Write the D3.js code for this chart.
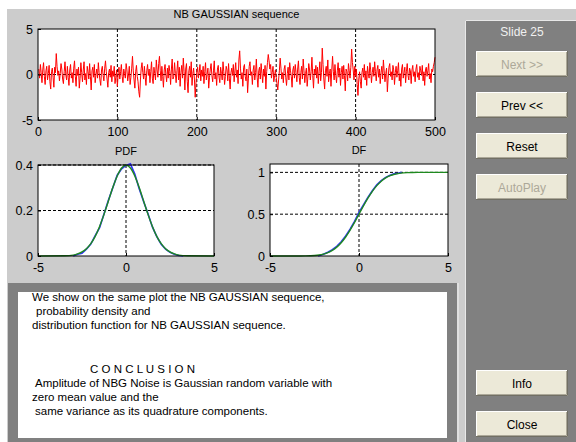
<!DOCTYPE html>
<html>
<head>
<meta charset="utf-8">
<script src="https://cdn.jsdelivr.net/npm/d3@7"></script>
<style>
  body { margin: 0; background: #fff; }
  svg { display: block; font-family: "Liberation Sans", Arial, sans-serif; }
</style>
</head>
<body>
<svg id="fig" width="576" height="442"></svg>
<script>
// NB gaussian sequence (samples 1..500)
const noise = [
  0.6,-0.4,1.1,0.2,-0.9,0.5,1.3,-0.2,-1.1,0.4,0.9,-0.6,0.1,1.0,-0.8,-1.6,0.3,0.7,-0.3,-1.4,0.8,0.2,2.3,0.9,-0.1,
  0.4,-0.7,0.1,1.2,0.6,-0.5,-1.0,0.3,1.4,0.0,-0.6,0.9,-0.3,-1.2,0.5,1.1,-0.4,0.2,-0.9,0.7,1.5,-0.2,-1.3,0.6,-0.1,
  0.8,-1.5,-0.4,1.3,0.2,-0.8,0.5,1.4,-0.6,0.1,-1.1,0.9,0.3,-0.5,1.2,-0.2,-1.7,0.4,0.8,-0.3,1.1,-0.9,0.0,0.6,-0.4,
  1.3,0.2,-0.6,-1.2,0.5,0.9,-0.1,-0.7,0.7,1.5,0.3,-0.5,-1.4,0.2,0.6,-0.3,1.0,-0.8,0.4,-0.2,0.9,-1.0,-0.3,0.5,-1.3,
  0.2,0.8,-0.5,0.3,1.1,-0.2,-0.9,0.6,0.1,-0.4,1.2,0.5,-0.7,0.0,0.9,-1.1,-0.3,0.7,2.0,0.4,-0.6,-1.5,0.3,1.0,-0.2,
  -0.8,-1.9,-2.5,-0.6,0.7,1.3,0.2,-0.5,0.9,-0.3,-1.2,0.4,1.1,-0.1,0.6,-0.9,0.3,1.4,-0.4,-1.0,0.8,0.1,-0.6,1.6,0.5,
  -0.3,1.2,2.0,0.4,-0.7,0.9,-0.2,-1.4,0.5,1.1,0.0,-0.8,0.7,-0.4,1.0,0.3,-1.1,0.6,1.7,-0.5,-0.2,1.3,0.1,-0.9,0.4,
  1.5,-0.6,0.8,-1.3,0.2,1.0,-0.4,1.8,0.3,-1.7,0.6,1.2,-0.8,-2.0,0.4,0.9,-0.3,1.4,-1.2,0.1,0.7,-0.5,-2.5,-0.9,0.3,
  0.8,-0.4,0.2,1.1,-0.7,0.5,-0.2,0.9,-1.0,0.3,1.3,-0.6,0.0,0.7,-1.5,-0.3,0.6,1.2,-0.1,-0.8,0.4,1.5,-0.5,0.2,-1.2,
  0.6,1.0,-0.3,-0.9,0.8,0.1,-0.6,1.4,0.3,-1.1,-0.2,0.9,0.5,-0.7,1.2,-0.4,-1.6,0.2,0.7,-0.1,1.1,-0.8,0.4,1.3,-0.3,
  0.5,-1.0,1.6,2.6,0.7,-0.5,0.2,-1.3,0.8,1.1,-0.2,-0.7,0.6,-2.0,-0.4,0.9,1.4,-0.1,0.3,-1.1,0.5,1.0,-0.6,0.2,1.7,
  -0.3,-1.4,0.4,0.8,-0.5,1.2,0.1,-0.9,0.6,-0.2,1.0,-1.6,0.3,1.3,2.2,1.5,0.6,1.1,-0.4,0.2,0.9,-0.8,-0.1,0.5,-0.3,
  -1.0,-1.7,-0.6,0.4,1.8,0.7,-0.5,0.2,-0.9,0.6,1.0,-0.3,-1.2,0.1,0.8,-0.6,1.3,0.4,-0.2,-1.4,0.5,0.9,-0.4,1.1,0.2,
  -0.8,0.6,1.5,-0.3,-1.1,0.2,0.9,-0.5,1.7,0.4,-0.9,0.1,0.7,-1.3,-0.2,1.2,0.5,-0.6,0.3,1.9,-0.1,-1.5,0.6,0.0,1.0,
  -0.4,0.8,-1.0,0.3,1.4,-0.7,0.2,2.9,1.1,-0.5,-1.6,0.4,0.9,-0.2,1.6,-0.8,0.1,0.6,-1.3,0.5,2.0,0.3,-0.6,1.1,-0.1,
  -0.9,0.4,1.3,-0.3,0.7,-1.2,0.2,0.9,-0.5,1.0,-0.1,-1.8,0.6,0.3,-0.7,1.2,0.4,-0.4,0.8,2.8,1.3,0.5,-0.6,0.9,-0.2,
  0.6,-1.1,-2.3,-0.5,0.3,-0.8,-1.5,0.2,0.7,-0.3,1.1,-0.6,0.4,-1.2,0.9,0.1,-0.4,1.3,0.5,-0.9,0.2,0.8,-0.2,1.4,0.3,
  -0.7,0.5,1.0,-0.3,0.6,-1.0,0.2,0.9,-0.5,1.6,0.4,-0.8,0.1,0.7,-1.9,-0.4,0.8,1.2,-0.2,0.3,-0.6,1.0,0.5,-1.1,0.2,
  0.9,-0.3,0.4,1.3,-0.7,0.1,-1.3,0.6,1.1,-0.4,0.2,0.8,-0.9,0.3,1.2,-0.1,-0.6,0.7,0.4,-1.0,0.5,1.0,-0.2,0.3,-0.8,
  0.6,1.1,-0.3,0.2,-0.6,0.9,0.4,-0.1,1.0,-0.7,0.3,-1.2,0.5,0.8,-0.2,0.4,1.2,-0.5,0.1,-0.9,0.6,0.3,0.9,1.3,1.9
];

// theoretical curves (green)
const gaussX   = [-5,-3.5,-3,-2.75,-2.5,-2.25,-2,-1.75,-1.5,-1.25,-1,-0.75,-0.5,-0.25,0,0.25,0.5,0.75,1,1.25,1.5,1.75,2,2.25,2.5,2.75,3,3.5,5];
const gaussPdf = [0,0.001,0.004,0.009,0.018,0.032,0.054,0.086,0.130,0.183,0.242,0.301,0.352,0.387,0.399,0.387,0.352,0.301,0.242,0.183,0.130,0.086,0.054,0.032,0.018,0.009,0.004,0.001,0];
const gaussCdf = [0,0.000,0.001,0.003,0.006,0.012,0.023,0.040,0.067,0.106,0.159,0.227,0.309,0.401,0.500,0.599,0.691,0.773,0.841,0.894,0.933,0.960,0.977,0.988,0.994,0.997,0.999,1.000,1];

// estimated curves (blue)
const estPdfX = [-3,-2.75,-2.5,-2.25,-2,-1.75,-1.5,-1.25,-1,-0.75,-0.5,-0.25,0,0.25,0.5,0.75,1,1.25,1.5,1.75,2,2.25,2.5,2.75,3,3.25];
const estPdf  = [0,0.008,0.012,0.030,0.052,0.090,0.125,0.185,0.245,0.300,0.355,0.383,0.398,0.405,0.360,0.296,0.240,0.186,0.128,0.085,0.052,0.030,0.016,0.008,0.002,0];
const estCdfX = [-2.3,-2,-1.75,-1.5,-1.25,-1,-0.75,-0.5,-0.25,0,0.25,0.5,0.75,1,1.25,1.5,1.75,2,2.2,2.4];
const estCdf  = [0,0.02,0.045,0.075,0.115,0.17,0.24,0.32,0.415,0.52,0.61,0.70,0.78,0.85,0.90,0.94,0.965,0.985,0.99,1.0];

// tick labels
const seqXTicks = [0,100,200,300,400,500];
const seqYTicks = [-5,0,5];
const distXTicks = [-5,0,5];
const pdfYTicks = [0,0.2,0.4];
const dfYTicks = [0,0.5,1];

// gui text
const buttonsTop = ["Next >>","Prev <<","Reset","AutoPlay"];
const buttonsOff = ["Next >>","AutoPlay"];
const buttonsBottom = ["Info","Close"];
const noteLines = [
  {t:"We show on the same plot the NB GAUSSIAN sequence,", x:32, y:301},
  {t:"probability density and", x:36, y:315},
  {t:"distribution function for NB GAUSSIAN sequence.", x:32, y:329},
  {t:"C O N C L U S I O N", x:90, y:373},
  {t:"Amplitude of NBG Noise is Gaussian random variable with", x:35, y:387},
  {t:"zero mean value and the", x:32, y:401},
  {t:"same variance as its quadrature components.", x:35, y:415}
];

let svg = d3.select("#fig");

// window backgrounds
svg.append("rect").attr("width",576).attr("height",442).attr("fill","#fff");
svg.append("rect").attr("x",7).attr("y",9).attr("width",569).attr("height",433).attr("fill","#cccccc");

//draws one matlab style axes
function drawAxes(o){
  let x = d3.scaleLinear().domain(o.xd).range([o.x0, o.x1]);
  let y = d3.scaleLinear().domain(o.yd).range([o.y1, o.y0]);
  let g = svg.append("g");

  g.append("rect")
    .attr("x", o.x0).attr("y", o.y0)
    .attr("width", o.x1 - o.x0).attr("height", o.y1 - o.y0)
    .attr("fill", "#fff");

  // dotted grid
  g.selectAll(".gx").data(o.gridX).enter().append("line")
    .attr("x1", d => x(d)).attr("x2", d => x(d))
    .attr("y1", o.y0).attr("y2", o.y1)
    .attr("stroke", "#000").attr("stroke-dasharray", "3,2");
  g.selectAll(".gy").data(o.gridY).enter().append("line")
    .attr("x1", o.x0).attr("x2", o.x1)
    .attr("y1", d => y(d)).attr("y2", d => y(d))
    .attr("stroke", "#000").attr("stroke-dasharray", "3,2");

  o.draw(g, x, y);

  let ax = g.append("g")
    .attr("transform", "translate(0," + o.y1 + ")")
    .call(d3.axisBottom(x).tickValues(o.xt).tickFormat(d => String(d)).tickSizeInner(-3).tickSizeOuter(0).tickPadding(7));
  let ay = g.append("g")
    .attr("transform", "translate(" + o.x0 + ",0)")
    .call(d3.axisLeft(y).tickValues(o.yt).tickFormat(d => String(d)).tickSizeInner(-3).tickSizeOuter(0).tickPadding(5));
  [ax, ay].forEach(a => {
    a.select(".domain").remove();
    a.selectAll("text").attr("fill", "#000").style("font-size", "12.5px")
      .style("font-family", "'Liberation Sans', Arial, sans-serif");
  });

  g.append("rect")
    .attr("x", o.x0).attr("y", o.y0)
    .attr("width", o.x1 - o.x0).attr("height", o.y1 - o.y0)
    .attr("fill", "none").attr("stroke", "#000");

  g.append("text")
    .attr("x", (o.x0 + o.x1) / 2).attr("y", o.ty)
    .attr("text-anchor", "middle").style("font-size", "11px")
    .text(o.title);
}

// top plot: the sequence
drawAxes({
  x0: 38, x1: 435, y0: 29, y1: 120,
  xd: [0, 500], yd: [-5, 5], xt: seqXTicks, yt: seqYTicks,
  gridX: [100, 200, 300, 400], gridY: [0],
  title: "NB GAUSSIAN sequence", ty: 18,
  draw: (g, x, y) => {
    g.append("path").datum(noise)
      .attr("d", d3.line().x((d, i) => x(i + 1)).y(d => y(d)))
      .attr("fill", "none").attr("stroke", "#ff0000").attr("stroke-width", 1);
  }
});

// probability density
drawAxes({
  x0: 38, x1: 214, y0: 165, y1: 256,
  xd: [-5, 5], yd: [0, 0.4], xt: distXTicks, yt: pdfYTicks,
  gridX: [0], gridY: [0.2, 0.4],
  title: "PDF", ty: 155,
  draw: (g, x, y) => {
    g.append("path").datum(estPdf)
      .attr("d", d3.line().x((d, i) => x(estPdfX[i])).y(d => y(d)))
      .attr("fill", "none").attr("stroke", "#3030ff").attr("stroke-width", 1.6);
    g.append("path").datum(gaussPdf)
      .attr("d", d3.line().curve(d3.curveMonotoneX).x((d, i) => x(gaussX[i])).y(d => y(d)))
      .attr("fill", "none").attr("stroke", "#1f8a1f").attr("stroke-width", 1.4);
  }
});

// distribution function
drawAxes({
  x0: 270, x1: 448, y0: 164, y1: 256,
  xd: [-5, 5], yd: [0, 1.1], xt: distXTicks, yt: dfYTicks,
  gridX: [0], gridY: [0.5, 1],
  title: "DF", ty: 154,
  draw: (g, x, y) => {
    g.append("path").datum(estCdf)
      .attr("d", d3.line().x((d, i) => x(estCdfX[i])).y(d => y(d)))
      .attr("fill", "none").attr("stroke", "#3030ff").attr("stroke-width", 1.6);
    g.append("path").datum(gaussCdf)
      .attr("d", d3.line().curve(d3.curveMonotoneX).x((d, i) => x(gaussX[i])).y(d => y(d)))
      .attr("fill", "none").attr("stroke", "#1f8a1f").attr("stroke-width", 1.4);
  }
});

// text panel
svg.append("rect").attr("x",8).attr("y",283).attr("width",449).attr("height",159).attr("fill","#808080");
svg.append("rect").attr("x",18).attr("y",292).attr("width",429).attr("height",146).attr("fill","#fff");
svg.append("line").attr("x1",458).attr("x2",458).attr("y1",283).attr("y2",442).attr("stroke","#f4f4f4");
svg.selectAll(".note").data(noteLines).enter().append("text")
  .attr("x", d => d.x).attr("y", d => d.y)
  .style("font-size", "11.5px").attr("fill", "#000")
  .text(d => d.t);

// control panel
svg.append("rect").attr("x",465).attr("y",20).attr("width",111).attr("height",422).attr("fill","#808080");
svg.append("path").attr("d","M465.5,442V20.5H576").attr("fill","none").attr("stroke","#e8e8e8");
svg.append("text").attr("x",522).attr("y",36).attr("text-anchor","middle")
  .style("font-size","12px").attr("fill","#f0f0f0").text("Slide 25");

//windows style push button
function button(label, top){
  let g = svg.append("g").attr("transform", "translate(476," + top + ")");
  let w = 92, h = 26;
  g.append("rect").attr("width", w).attr("height", h).attr("fill", "#ece9d8");
  g.append("path").attr("d", "M0.5," + (h - 1) + "V0.5H" + (w - 1)).attr("fill", "none").attr("stroke", "#fff");
  g.append("path").attr("d", "M0," + (h - 0.5) + "H" + (w - 0.5) + "V0").attr("fill", "none").attr("stroke", "#716f64");
  g.append("path").attr("d", "M1.5," + (h - 1.5) + "H" + (w - 1.5) + "V1").attr("fill", "none").attr("stroke", "#aca899");
  g.append("text").attr("x", w / 2).attr("y", 17.5).attr("text-anchor", "middle")
    .style("font-size", "12px")
    .attr("fill", buttonsOff.includes(label) ? "#aca899" : "#000")
    .text(label);
}
buttonsTop.forEach((b, i) => button(b, 51 + i * 41));
buttonsBottom.forEach((b, i) => button(b, 370 + i * 41));
</script>
</body>
</html>
